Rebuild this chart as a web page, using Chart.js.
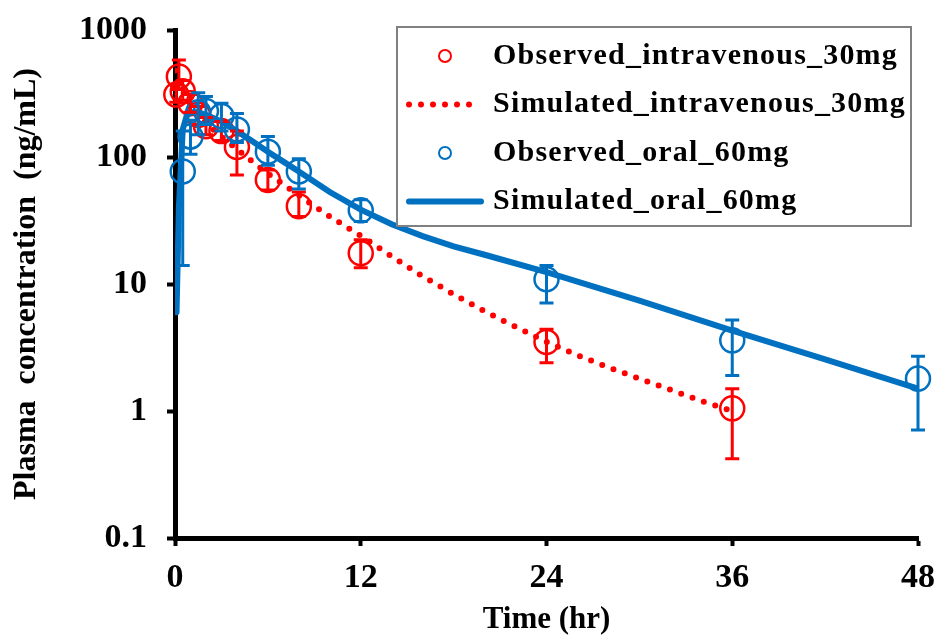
<!DOCTYPE html>
<html>
<head>
<meta charset="utf-8">
<script src="https://cdn.jsdelivr.net/npm/chart.js@4"></script>
<style>
  html, body { margin: 0; padding: 0; background: #fff; }
  #wrap { width: 938px; height: 639px; }
</style>
</head>
<body>
<div id="wrap"><canvas id="pkChart"></canvas></div>
<script>
// Observed IV 30 mg (mean with SD range)
const ivObsTime = [0.083, 0.25, 0.5, 1, 1.5, 2, 3, 4, 6, 8, 12, 24, 36];
const ivObsMean = [310, 430, 330, 265, 215, 175, 160, 120, 66, 41, 17.5, 3.5, 1.05];
const ivObsLow  = [270, 340, 280, 225, 180, 150, 135, 72, 55, 34, 13.4, 2.4, 0.42];
const ivObsHigh = [370, 580, 400, 310, 250, 205, 190, 160, 79, 53, 22.3, 4.4, 1.5];

// Simulated IV 30 mg
const ivSimTime = [0, 0.25, 0.5, 1, 1.5, 2, 3, 4, 5, 6, 7, 8, 9, 10, 11, 12, 14, 16, 18, 20, 22, 24, 26, 28, 30, 32, 34, 36];
const ivSimConc = [480, 390, 330, 260, 215, 185, 145, 115, 92, 74, 61, 50, 41, 34, 28.5, 24, 16.5, 11.5, 8.3, 6.1, 4.6, 3.5, 2.75, 2.2, 1.8, 1.47, 1.2, 1.0];

// Observed oral 60 mg
const oralObsTime = [0.5, 1, 1.5, 2, 3, 4, 6, 8, 12, 24, 36, 48];
const oralObsMean = [77, 145, 225, 230, 210, 165, 110, 77, 38, 10.9, 3.6, 1.8];
const oralObsLow  = [14, 105, 150, 180, 160, 130, 86, 56, 31, 7.1, 1.9, 0.71];
const oralObsHigh = [160, 195, 320, 300, 265, 220, 145, 97, 46, 14, 5.2, 2.7];

// Simulated oral 60 mg
const oralSimTime = [0.1, 0.25, 0.5, 0.75, 1, 1.5, 2, 3, 4, 5, 6, 7, 8, 10, 12, 14, 16, 18, 20, 24, 30, 36, 42, 48];
const oralSimConc = [6, 40, 165, 210, 225, 225, 215, 190, 160, 133, 110, 92, 77, 53, 38.5, 29.5, 23.8, 19.8, 17.0, 12.4, 7.4, 4.3, 2.55, 1.5];

const yTicks = [0.1, 1, 10, 100, 1000];
const xTicks = [0, 12, 24, 36, 48];

const RED = "#FF0000";
const BLUE = "#0070C0";
const FONT = "'Liberation Serif', 'Times New Roman', serif";

function pts(t, c) {
  return t.map((x, i) => ({ x: x, y: c[i] }));
}

// error bars drawn from the low/high arrays through the chart scales
const errorBars = {
  id: "errorBars",
  afterDatasetsDraw(chart) {
    const { ctx, scales } = chart;
    chart.data.datasets.forEach((ds) => {
      if (!ds.errLow) return;
      ctx.save();
      ctx.strokeStyle = ds.borderColor;
      ctx.lineWidth = 3;
      ds.data.forEach((p, i) => {
        const px = scales.x.getPixelForValue(p.x);
        const yLo = scales.y.getPixelForValue(ds.errLow[i]);
        const yHi = scales.y.getPixelForValue(ds.errHigh[i]);
        ctx.beginPath();
        ctx.moveTo(px, yLo);
        ctx.lineTo(px, yHi);
        ctx.moveTo(px - 7, yLo);
        ctx.lineTo(px + 7, yLo);
        ctx.moveTo(px - 7, yHi);
        ctx.lineTo(px + 7, yHi);
        ctx.stroke();
      });
      ctx.restore();
    });
  },
};

// legend box in the upper right
const boxLegend = {
  id: "boxLegend",
  afterDraw(chart) {
    const ctx = chart.ctx;
    const left = 397, top = 27, w = 514, h = 199;
    ctx.save();
    ctx.fillStyle = "#fff";
    ctx.fillRect(left, top, w, h);
    ctx.strokeStyle = "#808080";
    ctx.lineWidth = 2;
    ctx.strokeRect(left, top, w, h);
    ctx.font = "bold 30px " + FONT;
    ctx.letterSpacing = "1.2px";
    ctx.textBaseline = "middle";
    ctx.fillStyle = "#000";
    chart.data.datasets.forEach((ds, i) => {
      const cy = top + 29 + i * 48.5;
      const sx = left + 9, ex = left + 87;
      ctx.strokeStyle = ds.borderColor;
      if (ds.showLine) {
        ctx.lineWidth = ds.borderWidth;
        ctx.lineCap = "round";
        ctx.setLineDash(ds.borderDash || []);
        ctx.beginPath();
        ctx.moveTo(sx + 3, cy);
        ctx.lineTo(ex - 3, cy);
        ctx.stroke();
        ctx.setLineDash([]);
      } else {
        ctx.lineWidth = 2;
        ctx.beginPath();
        ctx.arc((sx + ex) / 2, cy, 6, 0, Math.PI * 2);
        ctx.stroke();
      }
      ctx.fillText(ds.label, left + 96, cy);
    });
    ctx.restore();
  },
};

const tickFont = { family: FONT, size: 34, weight: "bold" };
const titleFont = { family: FONT, size: 31, weight: "bold" };

new Chart(document.getElementById("pkChart"), {
  type: "scatter",
  data: {
    datasets: [
      {
        label: "Observed_intravenous_30mg",
        data: pts(ivObsTime, ivObsMean),
        errLow: ivObsLow,
        errHigh: ivObsHigh,
        borderColor: RED,
        backgroundColor: "rgba(0,0,0,0)",
        pointRadius: 12,
        pointBorderWidth: 2.5,
        showLine: false,
        clip: false,
        order: 2,
      },
      {
        label: "Simulated_intravenous_30mg",
        data: pts(ivSimTime, ivSimConc),
        borderColor: RED,
        backgroundColor: RED,
        borderWidth: 6,
        borderDash: [0, 12],
        borderCapStyle: "round",
        pointRadius: 0,
        showLine: true,
        order: 3,
      },
      {
        label: "Observed_oral_60mg",
        data: pts(oralObsTime, oralObsMean),
        errLow: oralObsLow,
        errHigh: oralObsHigh,
        borderColor: BLUE,
        backgroundColor: "rgba(0,0,0,0)",
        pointRadius: 12,
        pointBorderWidth: 2.5,
        showLine: false,
        clip: false,
        order: 1,
      },
      {
        label: "Simulated_oral_60mg",
        data: pts(oralSimTime, oralSimConc),
        borderColor: BLUE,
        backgroundColor: BLUE,
        borderWidth: 6,
        borderCapStyle: "round",
        pointRadius: 0,
        showLine: true,
        order: 0,
      },
    ],
  },
  options: {
    responsive: true,
    maintainAspectRatio: false,
    animation: false,
    layout: { padding: { top: 30, right: 20, left: 0, bottom: 0 } },
    plugins: {
      legend: { display: false },
      tooltip: { enabled: false },
    },
    scales: {
      x: {
        type: "linear",
        min: 0,
        max: 48,
        afterBuildTicks: (s) => { s.ticks = xTicks.map((v) => ({ value: v })); },
        afterFit: (s) => { s.height = 101; s.paddingLeft = 0; s.paddingRight = 0; },
        ticks: { font: tickFont, color: "#000", padding: 12 },
        grid: { drawOnChartArea: false, tickLength: 8, tickWidth: 4, tickColor: "#000" },
        border: { color: "#000", width: 5 },
        title: { display: true, text: "Time (hr)", font: titleFont, color: "#000", padding: 0 },
      },
      y: {
        type: "logarithmic",
        min: 0.1,
        max: 1000,
        afterBuildTicks: (s) => { s.ticks = yTicks.map((v) => ({ value: v })); },
        afterFit: (s) => { s.width = 175; s.paddingTop = 0; s.paddingBottom = 0; },
        ticks: { font: tickFont, color: "#000", padding: 20, callback: (v) => String(v) },
        grid: { drawOnChartArea: false, tickLength: 8, tickWidth: 4, tickColor: "#000" },
        border: { color: "#000", width: 5 },
        title: { display: true, text: "Plasma  concentration  (ng/mL)", font: { family: FONT, size: 32, weight: "bold" }, color: "#000", padding: { top: 8, bottom: 0 } },
      },
    },
  },
  plugins: [errorBars, boxLegend],
});
</script>
</body>
</html>
